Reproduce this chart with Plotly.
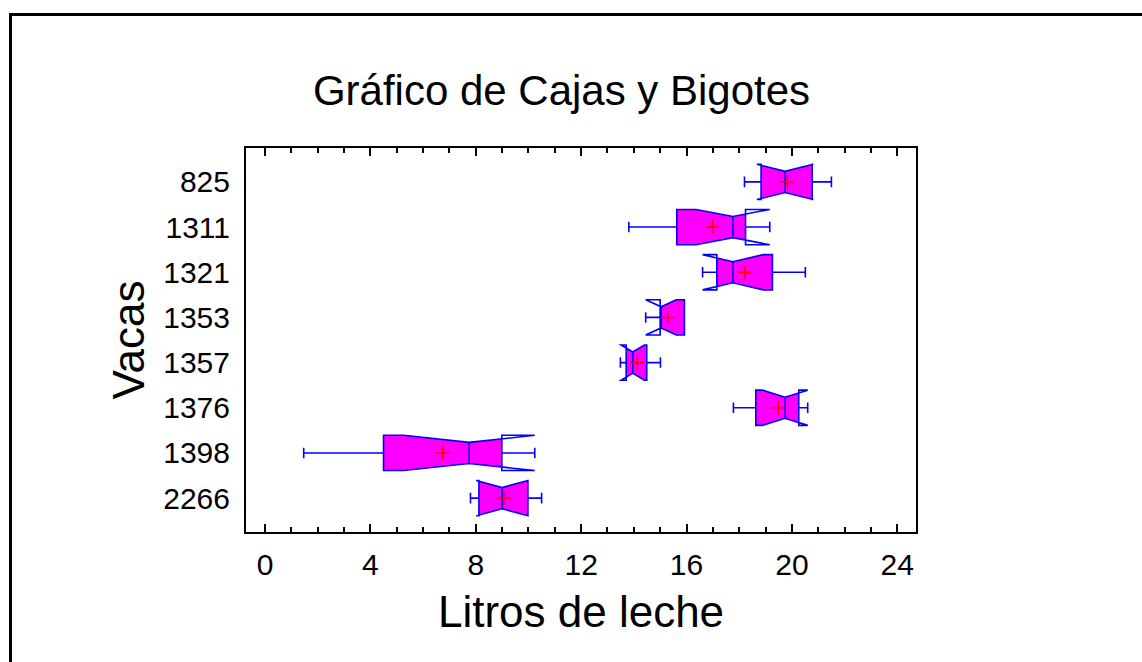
import plotly.graph_objects as go

# ---- data ----
cows = ["825", "1311", "1321", "1353", "1357", "1376", "1398", "2266"]
lower_whisker = [18.20, 13.81, 16.77, 15.00, 13.49, 17.78, 1.47, 7.80]
q1_vals = [18.83, 15.63, 17.15, 15.00, 13.71, 18.63, 4.50, 8.12]
median_vals = [19.74, 17.76, 17.76, 15.03, 13.96, 19.74, 7.75, 9.00]
q3_vals = [20.77, 18.24, 19.26, 15.92, 14.49, 20.26, 8.99, 9.98]
upper_whisker = [21.50, 18.48, 20.51, 15.92, 15.01, 20.51, 10.00, 10.50]
mean_vals = [19.82, 16.99, 18.21, 15.29, 14.13, 19.48, 6.75, 9.07]
notch_half = [1.07, 1.40, 1.15, 0.58, 0.44, 0.86, 2.49, 0.98]

x_ticks = [0, 4, 8, 12, 16, 20, 24]

title_text = "Gráfico de Cajas y Bigotes"
x_title = "Litros de leche"
y_title = "Vacas"

FONT = "Liberation Sans, Arial, sans-serif"
BOX_W = 0.78
MAGENTA = "#FF00FF"
BLUE = "#0000FF"

fig = go.Figure()

# 1) filled notched body (no outline)
fig.add_trace(go.Box(
    y=cows, orientation="h",
    q1=q1_vals, median=median_vals, q3=q3_vals,
    lowerfence=lower_whisker, upperfence=upper_whisker,
    notchspan=notch_half, notched=True, notchwidth=0.2,
    width=BOX_W, whiskerwidth=0.3, showwhiskers=False,
    fillcolor=MAGENTA, line=dict(color="rgba(0,0,0,0)", width=0),
    boxpoints=False, hoverinfo="skip", showlegend=False,
))

# 2) white masks so the notch flaps outside the box stay unfilled
ln_vals = [m - n for m, n in zip(median_vals, notch_half)]
un_vals = [m + n for m, n in zip(median_vals, notch_half)]
left_lo = [min(a, b) for a, b in zip(ln_vals, q1_vals)]
right_hi = [max(a, b) for a, b in zip(un_vals, q3_vals)]
for lo, hi in [(left_lo, q1_vals), (q3_vals, right_hi)]:
    fig.add_trace(go.Box(
        y=cows, orientation="h",
        q1=lo, median=lo, q3=hi, lowerfence=lo, upperfence=hi,
        width=BOX_W, showwhiskers=False,
        fillcolor="white", line=dict(color="rgba(0,0,0,0)", width=0),
        boxpoints=False, hoverinfo="skip", showlegend=False,
    ))

# 3) outline with whiskers
fig.add_trace(go.Box(
    y=cows, orientation="h",
    q1=q1_vals, median=median_vals, q3=q3_vals,
    lowerfence=lower_whisker, upperfence=upper_whisker,
    notchspan=notch_half, notched=True, notchwidth=0.2,
    width=BOX_W, whiskerwidth=0.3,
    fillcolor="rgba(0,0,0,0)", line=dict(color=BLUE, width=1.6),
    boxpoints=False, showlegend=False,
))

# 4) mean markers
fig.add_trace(go.Scatter(
    x=mean_vals, y=cows, mode="markers",
    marker=dict(symbol="cross-thin", size=10, line=dict(color="red", width=1.5), color="red"),
    showlegend=False, hoverinfo="skip",
))

W, H = 1142, 662
L, R, T, B = 246, 226, 148, 130
pw, ph = W - L - R, H - T - B

fig.update_layout(
    width=W, height=H,
    margin=dict(l=L, r=R, t=T, b=B, pad=0),
    paper_bgcolor="white", plot_bgcolor="white",
    boxmode="overlay",
    font=dict(family=FONT, color="black"),
    title=dict(text=title_text, x=561.5 / W, y=1 - 90 / H, xref="container", yref="container",
               xanchor="center", yanchor="middle", font=dict(size=42, family=FONT, color="black")),
    xaxis=dict(
        range=[-0.72, 24.71], tickvals=x_ticks, ticktext=[str(v) for v in x_ticks],
        ticks="inside", ticklen=8, tickwidth=1.5, tickcolor="black",
        minor=dict(dtick=1, ticks="inside", ticklen=5, tickwidth=1.5, tickcolor="black"),
        showline=True, linecolor="black", linewidth=2, mirror="ticks",
        showgrid=False, zeroline=False,
        tickfont=dict(size=30, family=FONT, color="black"),
        ticklabelstandoff=5,
        title=dict(text=x_title, font=dict(size=44, family=FONT, color="black"), standoff=16),
    ),
    yaxis=dict(
        type="category", categoryorder="array", categoryarray=cows,
        range=[7.75, -0.75],
        ticks="", showline=True, linecolor="black", linewidth=2, mirror=True,
        showgrid=False, zeroline=False,
        tickfont=dict(size=30, family=FONT, color="black"),
        ticklabelstandoff=8,
        title=dict(text=y_title, font=dict(size=44, family=FONT, color="black"), standoff=5),
    ),
    shapes=[dict(
        type="rect", xref="paper", yref="paper",
        x0=(10.5 - L) / pw, x1=(W + 10 - L) / pw,
        y0=(H - B - (H + 10)) / ph, y1=(H - B - 14.5) / ph,
        line=dict(color="black", width=3), fillcolor="rgba(0,0,0,0)", layer="above",
    )],
)

fig.write_html("out.html")
